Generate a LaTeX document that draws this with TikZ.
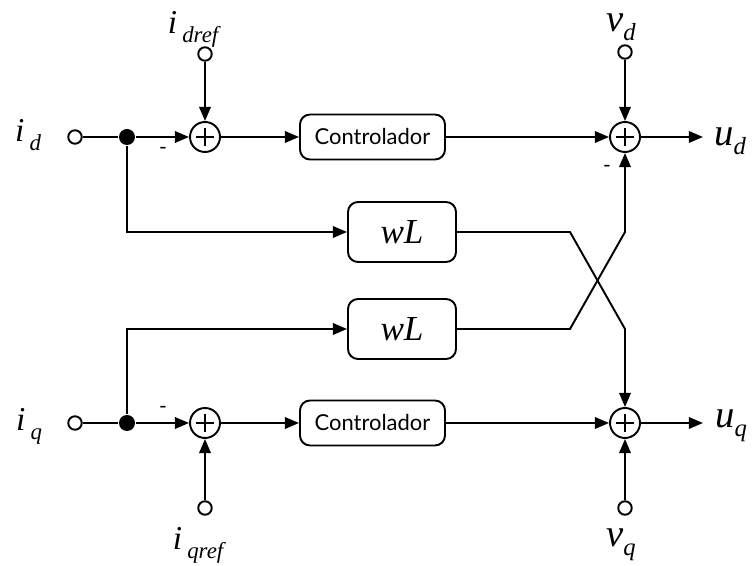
\documentclass[tikz,border=0pt]{standalone}
\usepackage{fontspec}
\setmainfont{Liberation Serif}
\newfontfamily\ctrlfont{Lato}
\usetikzlibrary{arrows.meta,calc,positioning}
\newcommand{\insig}[2]{{\fontsize{19}{19}\selectfont\itshape #1}\hspace{3pt}\raisebox{-5pt}{\fontsize{13}{13}\selectfont\itshape #2}}
\newcommand{\outsig}[2]{{\fontsize{22}{22}\selectfont\itshape #1}\raisebox{-5pt}{\fontsize{14}{14}\selectfont\itshape #2}}

\begin{document}
\begin{tikzpicture}[>={Triangle[length=8pt,width=6.5pt]},x=1cm,y=1cm,line width=1.1pt,
  sumnode/.style={draw,circle,minimum size=0.6cm,inner sep=0pt,
    path picture={\draw ($(path picture bounding box.center)+(-0.18,0)$) -- ++(0.36,0);
                  \draw ($(path picture bounding box.center)+(0,-0.18)$) -- ++(0,0.36);}},
  term/.style={draw,circle,fill=white,minimum size=0.27cm,inner sep=0pt},
  junc/.style={circle,fill=black,minimum size=0.32cm,inner sep=0pt},
  ctrl/.style={draw,rounded corners=0.2cm,minimum width=2.9cm,minimum height=0.9cm,font=\ctrlfont\fontsize{12.5}{13}\selectfont},
  gain/.style={draw,rounded corners=0.2cm,minimum width=2.16cm,minimum height=1.2cm,font=\fontsize{20}{20}\selectfont\itshape},
  minus/.style={font=\ctrlfont\fontsize{12}{12}\selectfont}]
\useasboundingbox (0,0) rectangle (15.04,11.32);
% d axis
\node[term] (id) at (1.5,8.58) {};
\node[junc] (jd) at (2.54,8.58) {};
\node[sumnode] (sd) at (4.1,8.58) {};
\node[term] (idref) at (4.1,10.24) {};
\node[ctrl] (cd) at (7.45,8.58) {Controlador};
\node[sumnode] (ud) at (12.5,8.58) {};
\node[term] (vd) at (12.5,10.28) {};
\coordinate (udout) at (14.06,8.58);
% q axis
\node[term] (iq) at (1.5,2.86) {};
\node[junc] (jq) at (2.54,2.86) {};
\node[sumnode] (sq) at (4.1,2.86) {};
\node[term] (iqref) at (4.1,1.16) {};
\node[ctrl] (cq) at (7.45,2.86) {Controlador};
\node[sumnode] (uq) at (12.5,2.86) {};
\node[term] (vq) at (12.5,1.16) {};
\coordinate (uqout) at (14.06,2.86);
% cross coupling
\node[gain] (wld) at (8.04,6.68) {wL};
\node[gain] (wlq) at (8.04,4.74) {wL};
\coordinate (xd) at (11.4,6.68);
\coordinate (xq) at (11.4,4.74);

\draw (id) -- (jd);
\draw[->] (jd) -- (sd);
\draw[->] (idref) -- (sd);
\draw[->] (sd) -- (cd);
\draw[->] (cd) -- (ud);
\draw[->] (vd) -- (ud);
\draw[->] (ud) -- (udout);
\draw (iq) -- (jq);
\draw[->] (jq) -- (sq);
\draw[->] (iqref) -- (sq);
\draw[->] (sq) -- (cq);
\draw[->] (cq) -- (uq);
\draw[->] (vq) -- (uq);
\draw[->] (uq) -- (uqout);
\draw[->] (jd) |- (wld);
\draw[->] (jq) |- (wlq);
\draw[->] (wld) -- (xd) -- (xq -| uq) -- (uq);
\draw[->] (wlq) -- (xq) -- (xd -| ud) -- (ud);

% labels
\node (lid) at (0.56,8.62) {\insig{i}{d}};
\node (liq) at (0.58,2.8) {\insig{i}{q}};
\node (lidref) at (3.86,10.74) {\insig{i}{dref}};
\node (liqref) at (3.96,0.42) {\insig{i}{qref}};
\node (lvd) at (12.42,10.78) {\outsig{v}{d}};
\node (lvq) at (12.42,0.42) {\outsig{v}{q}};
\node (lud) at (14.6,8.5) {\outsig{u}{d}};
\node (luq) at (14.62,2.8) {\outsig{u}{q}};
\node[minus] (md) at (3.26,8.3) {-};
\node[minus] (mq) at (3.26,3.12) {-};
\node[minus] (mu) at (12.14,7.94) {-};
\end{tikzpicture}
\end{document}
